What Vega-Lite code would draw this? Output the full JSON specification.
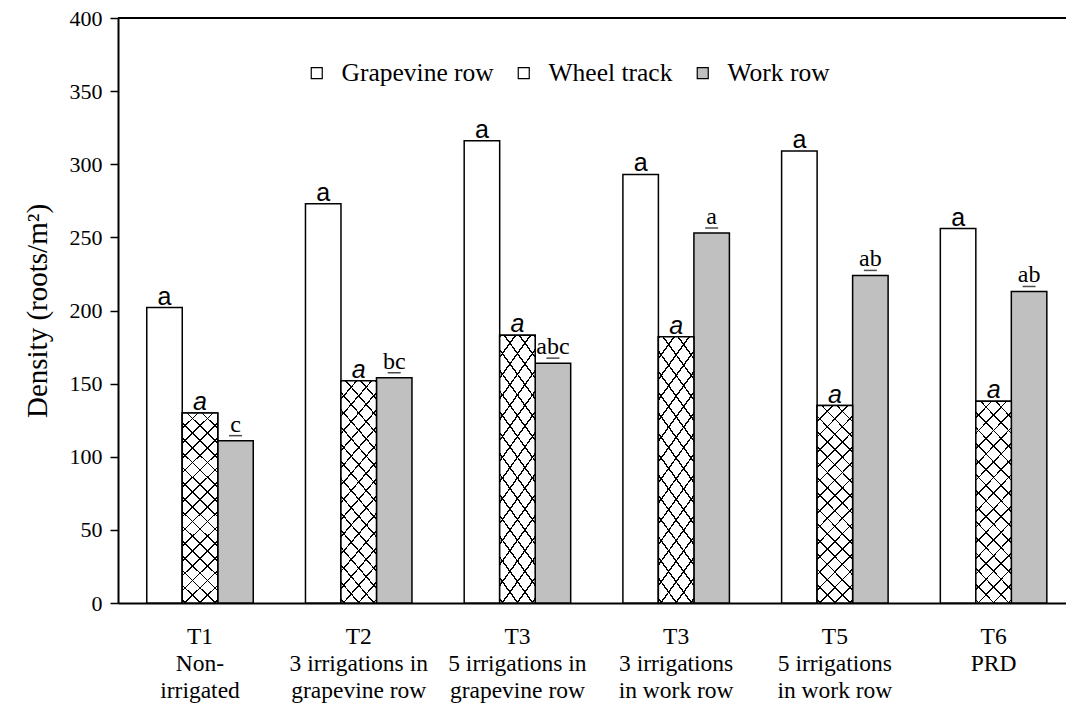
{
  "$schema": "https://vega.github.io/schema/vega-lite/v6.json",
  "width": 948,
  "height": 585,
  "autosize": "none",
  "padding": {"left": 118, "top": 18, "right": 0, "bottom": 104},
  "background": "white",
  "config": {
    "view": {"stroke": null},
    "font": "Liberation Serif"
  },
  "data": {
    "values": [
      {"group": "T1|Non-|irrigated", "series": "Grapevine row", "value": 202, "label": "a"},
      {"group": "T1|Non-|irrigated", "series": "Wheel track", "value": 130, "label": "a"},
      {"group": "T1|Non-|irrigated", "series": "Work row", "value": 111, "label": "c"},
      {"group": "T2|3 irrigations in|grapevine row", "series": "Grapevine row", "value": 273, "label": "a"},
      {"group": "T2|3 irrigations in|grapevine row", "series": "Wheel track", "value": 152, "label": "a"},
      {"group": "T2|3 irrigations in|grapevine row", "series": "Work row", "value": 154, "label": "bc"},
      {"group": "T3|5 irrigations in|grapevine row", "series": "Grapevine row", "value": 316, "label": "a"},
      {"group": "T3|5 irrigations in|grapevine row", "series": "Wheel track", "value": 183, "label": "a"},
      {"group": "T3|5 irrigations in|grapevine row", "series": "Work row", "value": 164, "label": "abc"},
      {"group": "T3|3 irrigations|in work row", "series": "Grapevine row", "value": 293, "label": "a"},
      {"group": "T3|3 irrigations|in work row", "series": "Wheel track", "value": 182, "label": "a"},
      {"group": "T3|3 irrigations|in work row", "series": "Work row", "value": 253, "label": "a"},
      {"group": "T5|5 irrigations|in work row", "series": "Grapevine row", "value": 309, "label": "a"},
      {"group": "T5|5 irrigations|in work row", "series": "Wheel track", "value": 135, "label": "a"},
      {"group": "T5|5 irrigations|in work row", "series": "Work row", "value": 224, "label": "ab"},
      {"group": "T6|PRD", "series": "Grapevine row", "value": 256, "label": "a"},
      {"group": "T6|PRD", "series": "Wheel track", "value": 138, "label": "a"},
      {"group": "T6|PRD", "series": "Work row", "value": 213, "label": "ab"}
    ]
  },
  "encoding": {
    "x": {
      "field": "group", "type": "nominal", "sort": null,
      "scale": {"paddingInner": 0.329, "paddingOuter": 0.151, "align": 0.6},
      "axis": {
        "title": null, "labelAngle": 0, "labelExpr": "split(datum.label, '|')",
        "labelFont": "Liberation Serif", "labelFontSize": 23.5, "labelColor": "black",
        "labelLineHeight": 27, "labelPadding": 21, "labelBaseline": "top", "labelLimit": 300,
        "ticks": false, "domainColor": "black", "domainWidth": 2
      }
    },
    "xOffset": {
      "field": "series", "type": "nominal",
      "scale": {"domain": ["Grapevine row", "Wheel track", "Work row"], "paddingInner": 0, "paddingOuter": 0}
    },
    "y": {
      "field": "value", "type": "quantitative",
      "scale": {"domain": [0, 400], "nice": false},
      "axis": {
        "title": "Density (roots/m²)", "titleFont": "Liberation Serif", "titleFontSize": 29,
        "titleFontWeight": "normal", "titleColor": "black", "titlePadding": 17,
        "values": [0, 50, 100, 150, 200, 250, 300, 350, 400],
        "labelFont": "Liberation Serif", "labelFontSize": 22, "labelColor": "black",
        "labelPadding": 8, "tickSize": 8, "tickColor": "black", "tickWidth": 1.5,
        "domainColor": "black", "domainWidth": 2, "grid": false
      }
    }
  },
  "layer": [
    {
      "mark": {"type": "bar", "stroke": "black", "strokeWidth": 1.5},
      "encoding": {
        "fill": {
          "field": "series", "type": "nominal",
          "scale": {"domain": ["Grapevine row", "Wheel track", "Work row"], "range": ["white", "white", "#c0c0c0"]},
          "legend": {
            "title": null, "orient": "none", "direction": "horizontal",
            "legendX": 186, "legendY": 42, "padding": 0,
            "symbolType": "square", "symbolSize": 121, "symbolStrokeColor": "black", "symbolStrokeWidth": 1.2,
            "labelFont": "Liberation Serif", "labelFontSize": 25.5, "labelColor": "black",
            "labelOffset": 12, "columnPadding": 17, "labelLimit": 300
          }
        }
      }
    },
    {
      "transform": [{"filter": "datum.series == 'Wheel track'"}],
      "mark": {
        "type": "bar", "strokeWidth": 0,
        "fill": {
          "gradient": "linear", "x1": 0, "y1": 0, "x2": 0.22, "y2": 1.2,
          "stops": [
            {"offset": 0, "color": "black"}, {"offset": 0.007, "color": "black"}, {"offset": 0.007, "color": "white"}, {"offset": 0.0625, "color": "white"},
            {"offset": 0.0625, "color": "black"}, {"offset": 0.0695, "color": "black"}, {"offset": 0.0695, "color": "white"}, {"offset": 0.125, "color": "white"},
            {"offset": 0.125, "color": "black"}, {"offset": 0.132, "color": "black"}, {"offset": 0.132, "color": "white"}, {"offset": 0.1875, "color": "white"},
            {"offset": 0.1875, "color": "black"}, {"offset": 0.1945, "color": "black"}, {"offset": 0.1945, "color": "white"}, {"offset": 0.25, "color": "white"},
            {"offset": 0.25, "color": "black"}, {"offset": 0.257, "color": "black"}, {"offset": 0.257, "color": "white"}, {"offset": 0.3125, "color": "white"},
            {"offset": 0.3125, "color": "black"}, {"offset": 0.3195, "color": "black"}, {"offset": 0.3195, "color": "white"}, {"offset": 0.375, "color": "white"},
            {"offset": 0.375, "color": "black"}, {"offset": 0.382, "color": "black"}, {"offset": 0.382, "color": "white"}, {"offset": 0.4375, "color": "white"},
            {"offset": 0.4375, "color": "black"}, {"offset": 0.4445, "color": "black"}, {"offset": 0.4445, "color": "white"}, {"offset": 0.5, "color": "white"},
            {"offset": 0.5, "color": "black"}, {"offset": 0.507, "color": "black"}, {"offset": 0.507, "color": "white"}, {"offset": 0.5625, "color": "white"},
            {"offset": 0.5625, "color": "black"}, {"offset": 0.5695, "color": "black"}, {"offset": 0.5695, "color": "white"}, {"offset": 0.625, "color": "white"},
            {"offset": 0.625, "color": "black"}, {"offset": 0.632, "color": "black"}, {"offset": 0.632, "color": "white"}, {"offset": 0.6875, "color": "white"},
            {"offset": 0.6875, "color": "black"}, {"offset": 0.6945, "color": "black"}, {"offset": 0.6945, "color": "white"}, {"offset": 0.75, "color": "white"},
            {"offset": 0.75, "color": "black"}, {"offset": 0.757, "color": "black"}, {"offset": 0.757, "color": "white"}, {"offset": 0.8125, "color": "white"},
            {"offset": 0.8125, "color": "black"}, {"offset": 0.8195, "color": "black"}, {"offset": 0.8195, "color": "white"}, {"offset": 0.875, "color": "white"},
            {"offset": 0.875, "color": "black"}, {"offset": 0.882, "color": "black"}, {"offset": 0.882, "color": "white"}, {"offset": 0.9375, "color": "white"},
            {"offset": 0.9375, "color": "black"}, {"offset": 0.9445, "color": "black"}, {"offset": 0.9445, "color": "white"}, {"offset": 1, "color": "white"}
          ]
        }
      },
      "encoding": {}
    },
    {
      "transform": [{"filter": "datum.series == 'Wheel track'"}],
      "mark": {
        "type": "bar", "stroke": "black", "strokeWidth": 1.5,
        "fill": {
          "gradient": "linear", "x1": 1, "y1": 0, "x2": 0.78, "y2": 1.2,
          "stops": [
            {"offset": 0, "color": "black"}, {"offset": 0.007, "color": "black"}, {"offset": 0.007, "color": "rgba(255,255,255,0)"}, {"offset": 0.0625, "color": "rgba(255,255,255,0)"},
            {"offset": 0.0625, "color": "black"}, {"offset": 0.0695, "color": "black"}, {"offset": 0.0695, "color": "rgba(255,255,255,0)"}, {"offset": 0.125, "color": "rgba(255,255,255,0)"},
            {"offset": 0.125, "color": "black"}, {"offset": 0.132, "color": "black"}, {"offset": 0.132, "color": "rgba(255,255,255,0)"}, {"offset": 0.1875, "color": "rgba(255,255,255,0)"},
            {"offset": 0.1875, "color": "black"}, {"offset": 0.1945, "color": "black"}, {"offset": 0.1945, "color": "rgba(255,255,255,0)"}, {"offset": 0.25, "color": "rgba(255,255,255,0)"},
            {"offset": 0.25, "color": "black"}, {"offset": 0.257, "color": "black"}, {"offset": 0.257, "color": "rgba(255,255,255,0)"}, {"offset": 0.3125, "color": "rgba(255,255,255,0)"},
            {"offset": 0.3125, "color": "black"}, {"offset": 0.3195, "color": "black"}, {"offset": 0.3195, "color": "rgba(255,255,255,0)"}, {"offset": 0.375, "color": "rgba(255,255,255,0)"},
            {"offset": 0.375, "color": "black"}, {"offset": 0.382, "color": "black"}, {"offset": 0.382, "color": "rgba(255,255,255,0)"}, {"offset": 0.4375, "color": "rgba(255,255,255,0)"},
            {"offset": 0.4375, "color": "black"}, {"offset": 0.4445, "color": "black"}, {"offset": 0.4445, "color": "rgba(255,255,255,0)"}, {"offset": 0.5, "color": "rgba(255,255,255,0)"},
            {"offset": 0.5, "color": "black"}, {"offset": 0.507, "color": "black"}, {"offset": 0.507, "color": "rgba(255,255,255,0)"}, {"offset": 0.5625, "color": "rgba(255,255,255,0)"},
            {"offset": 0.5625, "color": "black"}, {"offset": 0.5695, "color": "black"}, {"offset": 0.5695, "color": "rgba(255,255,255,0)"}, {"offset": 0.625, "color": "rgba(255,255,255,0)"},
            {"offset": 0.625, "color": "black"}, {"offset": 0.632, "color": "black"}, {"offset": 0.632, "color": "rgba(255,255,255,0)"}, {"offset": 0.6875, "color": "rgba(255,255,255,0)"},
            {"offset": 0.6875, "color": "black"}, {"offset": 0.6945, "color": "black"}, {"offset": 0.6945, "color": "rgba(255,255,255,0)"}, {"offset": 0.75, "color": "rgba(255,255,255,0)"},
            {"offset": 0.75, "color": "black"}, {"offset": 0.757, "color": "black"}, {"offset": 0.757, "color": "rgba(255,255,255,0)"}, {"offset": 0.8125, "color": "rgba(255,255,255,0)"},
            {"offset": 0.8125, "color": "black"}, {"offset": 0.8195, "color": "black"}, {"offset": 0.8195, "color": "rgba(255,255,255,0)"}, {"offset": 0.875, "color": "rgba(255,255,255,0)"},
            {"offset": 0.875, "color": "black"}, {"offset": 0.882, "color": "black"}, {"offset": 0.882, "color": "rgba(255,255,255,0)"}, {"offset": 0.9375, "color": "rgba(255,255,255,0)"},
            {"offset": 0.9375, "color": "black"}, {"offset": 0.9445, "color": "black"}, {"offset": 0.9445, "color": "rgba(255,255,255,0)"}, {"offset": 1, "color": "rgba(255,255,255,0)"}
          ]
        }
      },
      "encoding": {}
    },
    {
      "transform": [{"filter": "datum.series == 'Grapevine row'"}],
      "mark": {"type": "text", "font": "Liberation Sans", "fontSize": 25, "color": "black", "baseline": "alphabetic", "dy": -3},
      "encoding": {"text": {"field": "label"}}
    },
    {
      "transform": [{"filter": "datum.series == 'Wheel track'"}],
      "mark": {"type": "text", "font": "Liberation Sans", "fontStyle": "italic", "fontSize": 25, "color": "black", "baseline": "alphabetic", "dy": -3},
      "encoding": {"text": {"field": "label"}}
    },
    {
      "transform": [{"filter": "datum.series == 'Work row'"}],
      "mark": {"type": "text", "font": "Liberation Serif", "fontSize": 24, "color": "black", "baseline": "alphabetic", "dy": -9},
      "encoding": {"text": {"field": "label"}}
    },
    {
      "transform": [{"filter": "datum.series == 'Work row'"}],
      "mark": {"type": "tick", "color": "black", "thickness": 1.5, "yOffset": -5},
      "encoding": {
        "size": {
          "field": "label", "type": "nominal",
          "scale": {"domain": ["a", "c", "ab", "bc", "abc"], "range": [13, 13, 27, 27, 38]},
          "legend": null
        }
      }
    },
    {
      "mark": {"type": "rule", "color": "black", "strokeWidth": 2},
      "encoding": {"y": {"datum": 400}, "x": null, "xOffset": null}
    }
  ]
}
